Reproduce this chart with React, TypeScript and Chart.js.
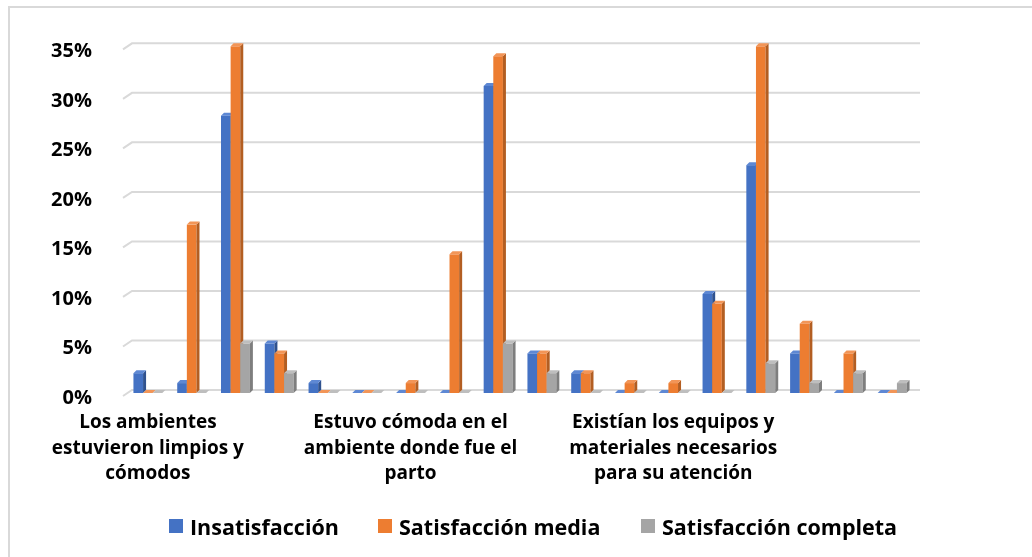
import React, { useEffect, useRef } from "react";
import { Chart, registerables } from "chart.js";

Chart.register(...registerables);

// Three survey questions, six answer levels each (18 bar groups).
const categories: (string | string[])[] = [
  ["Los ambientes", "estuvieron limpios y", "cómodos"], "", "", "", "", "",
  ["Estuvo cómoda en el", "ambiente donde fue el", "parto"], "", "", "", "", "",
  ["Existían los equipos y", "materiales necesarios", "para su atención"], "", "", "", "", "",
];

const insatisfaccion = [2, 1, 28, 5, 1, 0, 0, 0, 31, 4, 2, 0, 0, 10, 23, 4, 0, 0];
const satisfaccionMedia = [0, 17, 35, 4, 0, 0, 1, 14, 34, 4, 2, 1, 1, 9, 35, 7, 4, 0];
const satisfaccionCompleta = [0, 0, 5, 2, 0, 0, 0, 0, 5, 2, 0, 0, 0, 0, 3, 1, 2, 1];

const seriesNames = ["Insatisfacción", "Satisfacción media", "Satisfacción completa"];
const seriesValues = [insatisfaccion, satisfaccionMedia, satisfaccionCompleta];
const frontColors = ["#4472C4", "#ED7D31", "#A5A5A5"];
const sideColors = ["#2F528F", "#B35E22", "#7E7E7E"];
const capColors = ["#5E88D4", "#F29557", "#BEBEBE"];

const yMax = 35;
const yStep = 5;

const FONT = "'Open Sans', 'DejaVu Sans', sans-serif";
const GRID_COLOR = "#d9d9d9";

// Gridlines on the back wall with a short slanted segment on the floor edge.
const wallGrid = {
  id: "wallGrid",
  beforeDatasetsDraw(chart: any) {
    const ctx = chart.ctx as CanvasRenderingContext2D;
    const { left, right } = chart.chartArea;
    const yScale = chart.scales.y;
    ctx.save();
    ctx.strokeStyle = GRID_COLOR;
    ctx.lineWidth = 2;
    yScale.ticks.forEach((t: any) => {
      const py = yScale.getPixelForValue(t.value);
      ctx.beginPath();
      ctx.moveTo(left - 3, py + 6);
      ctx.lineTo(left + 6, py);
      ctx.lineTo(right + 6, py);
      ctx.stroke();
    });
    ctx.restore();
  },
};

// Draws each bar as a small prism: front face, darker right side, lighter top.
const prismBars = {
  id: "prismBars",
  beforeDatasetDraw() {
    return false;
  },
  afterDatasetsDraw(chart: any) {
    const ctx = chart.ctx as CanvasRenderingContext2D;
    const d = 3;
    ctx.save();
    chart.data.datasets.forEach((_ds: any, i: number) => {
      const meta = chart.getDatasetMeta(i);
      meta.data.forEach((bar: any) => {
        const { x, y, base, width } = bar.getProps(["x", "y", "base", "width"], true);
        const l = x - width / 2;
        const r = x + width / 2;
        const top = y + d;
        const bottom = base + d;
        ctx.fillStyle = frontColors[i];
        ctx.fillRect(l, top, width, bottom - top);
        ctx.fillStyle = sideColors[i];
        ctx.beginPath();
        ctx.moveTo(r, top);
        ctx.lineTo(r + d, top - d);
        ctx.lineTo(r + d, bottom - d);
        ctx.lineTo(r, bottom);
        ctx.closePath();
        ctx.fill();
        ctx.fillStyle = capColors[i];
        ctx.beginPath();
        ctx.moveTo(l, top);
        ctx.lineTo(l + d, top - d);
        ctx.lineTo(r + d, top - d);
        ctx.lineTo(r, top);
        ctx.closePath();
        ctx.fill();
      });
    });
    ctx.restore();
  },
};

const legendLefts = [169, 378, 641];

export default function App() {
  const canvasRef = useRef<HTMLCanvasElement | null>(null);

  useEffect(() => {
    const canvas = canvasRef.current;
    if (!canvas) return;
    const chart = new Chart(canvas, {
      type: "bar",
      data: {
        labels: categories,
        datasets: seriesNames.map((name, i) => ({
          label: name,
          data: seriesValues[i],
          backgroundColor: frontColors[i],
          categoryPercentage: 0.66,
          barPercentage: 1,
        })),
      },
      options: {
        responsive: false,
        animation: false,
        layout: { padding: { left: 0, right: 118, top: 43.3, bottom: 0 } },
        plugins: {
          legend: { display: false },
          tooltip: { enabled: false },
        },
        scales: {
          x: {
            grid: { display: false },
            border: { display: false },
            ticks: {
              autoSkip: false,
              maxRotation: 0,
              minRotation: 0,
              padding: 12,
              color: "#000",
              font: { family: FONT, size: 19, weight: "bold", lineHeight: "25.5px" },
            },
            afterFit: (scale: any) => {
              scale.height = 167;
            },
          },
          y: {
            min: 0,
            max: yMax,
            border: { display: false },
            grid: { display: false },
            ticks: {
              stepSize: yStep,
              padding: 26,
              labelOffset: 8,
              color: "#000",
              font: { family: FONT, size: 20, weight: "bold" },
              callback: (v: any) => `${v}%`,
            },
            afterFit: (scale: any) => {
              scale.width = 126;
            },
          },
        },
      },
      plugins: [wallGrid, prismBars],
    });
    return () => chart.destroy();
  }, []);

  return (
    <div
      style={{
        position: "absolute",
        left: 0,
        top: 0,
        width: 1032,
        height: 557,
        overflow: "hidden",
        background: "#fff",
      }}
    >
      <div
        style={{
          position: "absolute",
          left: 8,
          top: 6,
          width: 1100,
          height: 700,
          border: "2px solid #d9d9d9",
          boxSizing: "border-box",
        }}
      />
      <canvas ref={canvasRef} width={1032} height={557} style={{ position: "absolute", left: 0, top: 0 }} />
      {seriesNames.map((name, i) => (
        <div
          key={name}
          style={{
            position: "absolute",
            left: legendLefts[i],
            top: 512,
            height: 28,
            display: "flex",
            alignItems: "center",
            fontFamily: FONT,
            fontWeight: 700,
            fontSize: 21.5,
            color: "#000",
            whiteSpace: "nowrap",
          }}
        >
          <span style={{ display: "inline-block", width: 14, height: 14, background: frontColors[i], marginRight: 7 }} />
          {name}
        </div>
      ))}
    </div>
  );
}
